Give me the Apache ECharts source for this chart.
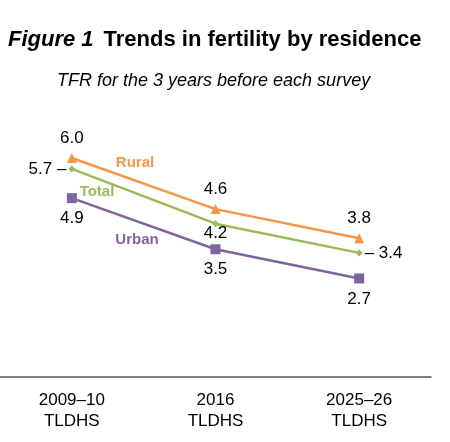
<!DOCTYPE html>
<html>
<head>
<meta charset="utf-8">
<script src="https://cdn.jsdelivr.net/npm/echarts@6/dist/echarts.min.js"></script>
<style>
html, body { margin: 0; padding: 0; background: #fff; }
#main { width: 450px; height: 442px; }
</style>
</head>
<body>
<div id="main"></div>
<script>
var chart = echarts.init(document.getElementById('main'));

// data
var surveys = ['2009\u201310\nTLDHS', '2016\nTLDHS', '2025\u201326\nTLDHS'];
var rural = [6.0, 4.6, 3.8];
var total = [5.7, 4.2, 3.4];
var urban = [4.9, 3.5, 2.7];

var FONT = 'Liberation Sans, Arial, sans-serif';
var C_RURAL = '#F79646', C_TOTAL = '#9BBB59', C_URBAN = '#8064A2';

var lblStyle = { color: '#000', fontSize: 17, fontFamily: FONT };

var option = {
    animation: false,
    title: [
        {
            text: '{a|Figure 1}  {b|Trends in fertility by residence}',
            left: 3, top: 24,
            textStyle: {
                rich: {
                    a: { fontSize: 22, fontWeight: 'bold', fontStyle: 'italic', fontFamily: FONT, color: '#000' },
                    b: { fontSize: 22, fontWeight: 'bold', fontFamily: FONT, color: '#000' }
                }
            }
        },
        {
            text: 'TFR for the 3 years before each survey',
            left: 52, top: 67,
            textStyle: { fontSize: 18, fontStyle: 'italic', fontWeight: 'normal', fontFamily: FONT, color: '#000' }
        }
    ],
    grid: { left: -1, width: 432, top: 85, height: 292 },
    xAxis: {
        type: 'category',
        data: surveys,
        boundaryGap: true,
        axisLine: { lineStyle: { color: '#595959', width: 1.5 } },
        axisTick: { show: false },
        axisLabel: { color: '#000', fontSize: 17, fontFamily: FONT, lineHeight: 21, margin: 13 }
    },
    yAxis: {
        type: 'value', min: 0, max: 8,
        show: false,
        splitLine: { show: false }
    },
    series: [
        {
            name: 'Rural', type: 'line', data: rural,
            symbol: 'triangle', symbolSize: 10,
            itemStyle: { color: C_RURAL },
            lineStyle: { color: C_RURAL, width: 2.5 },
            label: Object.assign({ show: true, position: 'top', distance: 6,
                formatter: function (p) { return p.value.toFixed(1); } }, lblStyle)
        },
        {
            name: 'Total', type: 'line',
            symbol: 'diamond', symbolSize: 7,
            itemStyle: { color: C_TOTAL },
            lineStyle: { color: C_TOTAL, width: 2.5 },
            label: Object.assign({ show: true, position: 'bottom', distance: -2,
                formatter: function (p) {
                    if (p.dataIndex === 0) return p.value.toFixed(1) + ' \u2013';
                    if (p.dataIndex === total.length - 1) return '\u2013 ' + p.value.toFixed(1);
                    return p.value.toFixed(1);
                } }, lblStyle),
            data: total.map(function (v, i) {
                var d = { value: v };
                if (i === 0) d.label = { position: 'left', distance: 2 };
                if (i === total.length - 1) d.label = { position: 'right', distance: 2 };
                return d;
            })
        },
        {
            name: 'Urban', type: 'line', data: urban,
            symbol: 'rect', symbolSize: 10,
            itemStyle: { color: C_URBAN },
            lineStyle: { color: C_URBAN, width: 2.5 },
            label: Object.assign({ show: true, position: 'bottom', distance: 7,
                formatter: function (p) { return p.value.toFixed(1); } }, lblStyle)
        }
    ],
    graphic: [
        { type: 'text', x: 135, y: 163, style: { text: 'Rural', fill: C_RURAL, font: 'bold 15px ' + FONT, textAlign: 'center', textVerticalAlign: 'middle' } },
        { type: 'text', x: 97, y: 192, style: { text: 'Total', fill: C_TOTAL, font: 'bold 15px ' + FONT, textAlign: 'center', textVerticalAlign: 'middle' } },
        { type: 'text', x: 137, y: 240, style: { text: 'Urban', fill: C_URBAN, font: 'bold 15px ' + FONT, textAlign: 'center', textVerticalAlign: 'middle' } }
    ]
};

chart.setOption(option);
</script>
</body>
</html>
